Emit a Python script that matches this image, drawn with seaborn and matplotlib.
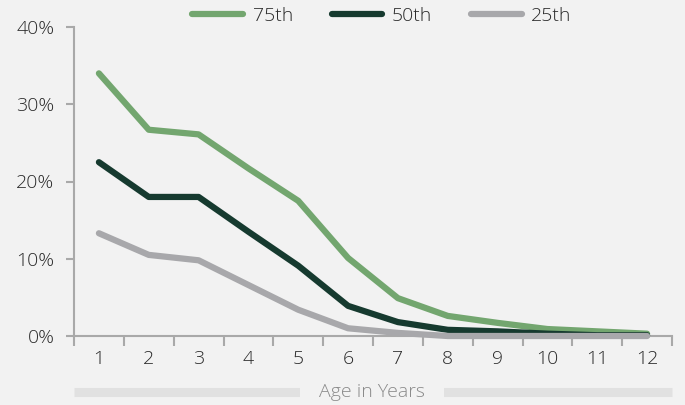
import matplotlib
matplotlib.use("Agg")
import matplotlib.pyplot as plt
import seaborn as sns
import pandas as pd
from matplotlib.ticker import FixedLocator, PercentFormatter

# Share of vehicles still in service by age, per percentile band
ages = [1, 2, 3, 4, 5, 6, 7, 8, 9, 10, 11, 12]
p75 = [34.0, 26.7, 26.1, 21.7, 17.5, 10.1, 4.9, 2.6, 1.7, 0.9, 0.6, 0.3]
p50 = [22.5, 18.0, 18.0, 13.5, 9.1, 3.9, 1.8, 0.8, 0.6, 0.3, 0.1, 0.1]
p25 = [13.3, 10.5, 9.8, 6.6, 3.4, 1.0, 0.4, 0.0, 0.0, 0.0, 0.0, 0.0]
series_names = ["75th", "50th", "25th"]
palette = ["#73a66f", "#163a2f", "#a8a8ab"]
y_ticks = [0, 10, 20, 30, 40]

df = pd.DataFrame({
    "age": ages * 3,
    "value": p75 + p50 + p25,
    "band": [series_names[0]] * 12 + [series_names[1]] * 12 + [series_names[2]] * 12,
})

sns.set_theme(style="white")
bg = "#f2f2f2"
text_c = "#2a2a2a"
plt.rcParams["font.family"] = ["Open Sans", "DejaVu Sans"]
fs = 14

fig = plt.figure(figsize=(6.85, 4.05), dpi=100, facecolor=bg)
ax = fig.add_axes([74 / 685, 69 / 405, 598 / 685, 309 / 405])
ax.set_facecolor(bg)

sns.lineplot(data=df, x="age", y="value", hue="band", hue_order=series_names,
             palette=palette, linewidth=4.5, ax=ax, legend=False, sort=False)
for z, ln in zip([3, 4, 5], ax.lines):
    ln.set_solid_capstyle("round")
    ln.set_solid_joinstyle("round")
    ln.set_clip_on(False)
    ln.set_zorder(z)

ax.set_xlim(0.5, 12.5)
ax.set_ylim(0, 40)
ax.xaxis.set_major_locator(FixedLocator(ages))
ax.xaxis.set_minor_locator(FixedLocator([a + 0.5 for a in [0] + ages]))
ax.set_yticks(y_ticks)
ax.yaxis.set_major_formatter(PercentFormatter(decimals=0))

spine_c = "#a9a9a9"
for s in ["top", "right"]:
    ax.spines[s].set_visible(False)
for s in ["left", "bottom"]:
    ax.spines[s].set_color(spine_c)
    ax.spines[s].set_linewidth(1.5)

ax.tick_params(axis="x", which="major", length=0, pad=10, labelsize=fs,
               labelcolor=text_c)
ax.tick_params(axis="x", which="minor", length=7, width=1.5, color=spine_c,
               direction="out", bottom=True)
ax.tick_params(axis="y", which="major", length=6, width=1.5, color=spine_c,
               direction="out", left=True, pad=8, labelsize=fs,
               labelcolor=text_c)
for lab in ax.get_xticklabels() + ax.get_yticklabels():
    lab.set_fontweight("light")
ax.set_xlabel("")
ax.set_ylabel("")

# x-axis caption laid over a light band
band_y = 1 - 392 / 405
fig.add_artist(plt.Line2D([74 / 685, 672 / 685], [band_y, band_y],
                          transform=fig.transFigure, color="#e1e1e1",
                          linewidth=6.5, solid_capstyle="butt"))
fig.text(372 / 685, band_y, "Age in Years", ha="center", va="center",
         fontsize=fs, color="#8a8a8a", fontweight="light",
         bbox=dict(fc=bg, ec="none", pad=14))

# legend
handles = [plt.Line2D([], [], color=c, linewidth=4.5, solid_capstyle="round")
           for c in palette]
leg = fig.legend(handles, series_names, loc="center", ncol=3,
                 bbox_to_anchor=(382 / 685, 1 - 16 / 405), frameon=False,
                 fontsize=fs, handlelength=2.6, handletextpad=0.5,
                 columnspacing=2.0)
for t in leg.get_texts():
    t.set_color(text_c)
    t.set_fontweight("light")

fig.savefig("out.png", dpi=100, facecolor=bg)
